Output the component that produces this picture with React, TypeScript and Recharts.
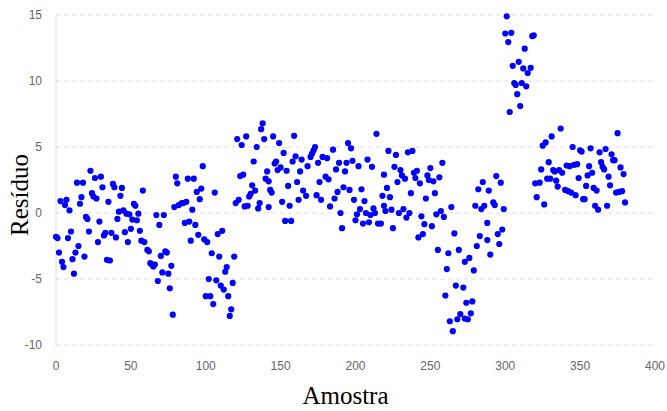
import React from "react";
import { ScatterChart, Scatter, XAxis, YAxis, CartesianGrid, Label } from "recharts";

// Sample index (Amostra)
const samples: number[] = [
  0,1,2,3,4,5,6,7,8,9,10,11,12,13,14,15,16,17,18,19,20,21,22,23,24,25,26,27,28,29,
  30,31,32,33,34,35,36,37,38,39,40,41,42,43,44,45,46,47,48,49,50,51,52,53,54,55,56,57,58,59,
  61,62,63,64,65,66,67,68,69,70,71,72,73,74,75,76,77,78,79,80,81,82,84,85,
  86,87,88,89,90,91,92,93,94,95,96,97,98,99,100,101,102,103,104,105,106,107,108,109,110,
  111,112,113,114,115,116,117,118,119,120,121,122,123,124,125,126,127,128,129,130,131,132,133,134,135,
  136,137,138,139,140,141,142,142,143,144,145,146,147,148,149,150,151,152,153,154,155,156,157,158,159,160,161,162,
  163,164,165,167,168,170,171,172,173,174,175,176,177,178,180,181,182,183,185,186,187,188,189,190,191,192,193,194,195,196,197,198,199,200,201,202,
  203,204,205,206,207,208,209,210,211,212,213,214,215,217,218,219,219,220,221,222,223,224,225,226,227,228,229,230,231,232,233,234,235,236,237,238,239,240,241,242,243,244,245,246,247,248,249,250,251,252,253,254,255,256,257,258,259,260,261,262,263,264,265,266,267,268,269,270,272,273,273,274,275,276,277,278,279,280,281,282,283,284,285,286,288,288,289,290,292,293,294,295,296,297,298,299,
  300,301,302,303,304,305,306,307,308,309,310,311,312,313,314,315,317,318,319,
  320,321,323,324,325,326,327,328,329,330,331,332,333,334,335,336,337,338,340,341,342,343,344,345,346,347,348,349,350,351,352,353,354,355,356,357,358,359,360,361,362,363,364,365,366,367,368,369,370,371,372,373,374,375,376,377,378,379,380,
];

// Residual (Resíduo)
const residuals: number[] = [
  -1.8,-1.9,-3.0,0.9,-3.7,-4.1,0.6,1.0,-1.9,0.2,-1.4,-3.5,-4.6,-3.0,2.3,-2.5,0.7,1.2,2.3,-3.3,-0.3,-0.45,-1.4,3.2,1.5,1.25,2.65,1.1,-2.2,-0.65,
  2.75,1.95,-1.7,-1.5,-3.55,0.85,-3.6,-1.5,2.2,1.95,-1.85,-0.45,0.1,1.3,1.9,0.2,-1.45,-0.05,-2.2,-0.1,-1.2,-0.5,0.7,0.55,-0.55,-0.05,-1.35,-2.1,1.7,-2.2,
  -2.8,-2.9,-3.8,-3.9,-4.05,-3.9,-0.15,-5.15,-0.9,-3.25,-4.5,-0.15,-2.9,-3.0,-4.6,-5.7,-4.0,-7.7,0.45,2.75,2.25,0.6,0.75,0.75,
  -0.75,0.85,2.6,-0.65,-2.1,0.25,2.6,-0.9,1.6,-1.65,1.05,1.85,3.55,-2.0,-6.3,-2.2,-5.0,-6.3,-3.05,-6.9,1.55,-5.1,-1.6,-3.3,-5.5,
  -1.35,-5.8,-4.45,-4.1,-6.3,-7.8,-7.3,-5.3,-3.3,0.75,5.6,1.0,2.8,5.15,2.9,0.5,5.8,0.55,1.25,1.45,2.1,3.9,1.7,5.0,0.35,
  0.75,6.35,6.8,5.6,2.6,3.15,2.4,0.45,1.75,1.55,5.8,3.75,3.9,3.25,5.3,3.45,0.85,4.55,-0.6,3.2,2.05,0.55,-0.6,3.9,5.85,4.3,2.35,1.0,
  3.15,4.05,1.7,1.3,3.55,4.25,4.5,4.75,5.0,1.35,3.8,2.35,1.0,4.25,2.75,4.15,2.55,0.5,4.8,1.1,3.3,1.6,3.8,0.0,-1.15,1.95,3.15,3.8,5.3,1.75,4.9,3.95,1.0,-0.55,-0.1,3.55,
  0.3,1.8,-0.8,0.9,0.0,4.05,-0.7,-0.15,3.5,0.35,0.0,6.0,-0.8,-0.8,1.3,0.55,2.9,0.15,1.9,4.7,1.2,0.25,-1.15,3.5,4.4,2.35,0.0,3.25,2.85,0.3,2.6,-0.35,4.6,0.0,1.5,4.7,3.05,2.65,3.2,-1.85,2.25,-0.25,-1.6,-0.85,1.1,2.85,2.5,3.4,-1.0,2.4,1.5,-0.1,-2.8,2.7,0.15,3.8,-0.3,-6.25,-4.25,-3.05,-8.2,0.45,-8.95,-1.55,-5.5,-8.05,-2.8,-7.65,-5.65,-8.0,-3.7,-6.8,-8.05,-3.4,-7.6,-6.7,-4.35,0.55,-2.5,1.8,-1.75,0.3,2.35,0.55,-0.75,-2.05,1.7,-3.15,0.8,0.6,2.8,-1.6,-2.35,2.3,-1.25,0.3,
  13.6,14.9,12.95,7.65,13.65,11.15,9.85,9.7,9.0,11.45,8.1,9.85,10.95,12.45,9.6,10.6,11.0,13.4,13.45,
  2.25,1.2,2.3,3.3,5.1,0.65,5.35,2.6,3.85,2.6,5.8,3.25,3.15,2.45,2.0,3.25,6.4,3.05,1.75,3.6,1.65,3.55,1.55,5.0,3.65,1.35,3.7,2.65,4.75,4.65,1.05,1.05,2.05,2.85,3.55,4.9,3.05,1.9,0.55,1.7,0.25,4.6,3.85,3.5,3.3,4.85,0.55,2.75,2.1,4.45,4.0,4.0,1.55,6.05,1.6,3.45,1.65,2.95,0.8,
];

const xTicks: number[] = [0, 50, 100, 150, 200, 250, 300, 350, 400];
const yTicks: number[] = [-10, -5, 0, 5, 10, 15];

const points = samples.map((s, i) => ({ x: s, y: residuals[i] }));

const tickStyle = { fill: "#666", fontSize: 12, fontFamily: "Liberation Sans, Arial, sans-serif" };

const Dot = (props: any) => <circle cx={props.cx} cy={props.cy} r={3.1} fill="#0000ff" />;

export default function App() {
  return (
    <div style={{ position: "absolute", left: 0, top: 0, background: "#fff" }}>
      <ScatterChart width={667} height={411} margin={{ top: 15, right: 12, bottom: 6, left: 0 }}>
        <CartesianGrid vertical={false} stroke="#dedede" strokeDasharray="4 4" />
        <XAxis
          type="number"
          dataKey="x"
          domain={[0, 400]}
          ticks={xTicks}
          height={60}
          tickLine={false}
          tickMargin={10}
          axisLine={false}
          tick={tickStyle}
        >
          <Label
            content={(p: any) => {
              const vb = p.viewBox;
              return (
                <text x={vb.x + vb.width / 2 - 10} y={vb.y + 59} textAnchor="middle" fontSize={25} fontFamily="Liberation Serif, Times New Roman, serif" fill="#000">
                  Amostra
                </text>
              );
            }}
          />
        </XAxis>
        <YAxis
          type="number"
          dataKey="y"
          domain={[-10, 15]}
          ticks={yTicks}
          width={56}
          tickLine={false}
          tickMargin={8}
          axisLine={{ stroke: "#e0e0e0" }}
          tick={tickStyle}
        >
          <Label
            content={(p: any) => {
              const vb = p.viewBox;
              const cx = vb.x + 28;
              const cy = vb.y + vb.height / 2 + 15;
              return (
                <text x={cx} y={cy} transform={`rotate(-90, ${cx}, ${cy})`} textAnchor="middle" fontSize={25} fontFamily="Liberation Serif, Times New Roman, serif" fill="#000">
                  Resíduo
                </text>
              );
            }}
          />
        </YAxis>
        <Scatter data={points} shape={<Dot />} isAnimationActive={false} />
      </ScatterChart>
    </div>
  );
}
